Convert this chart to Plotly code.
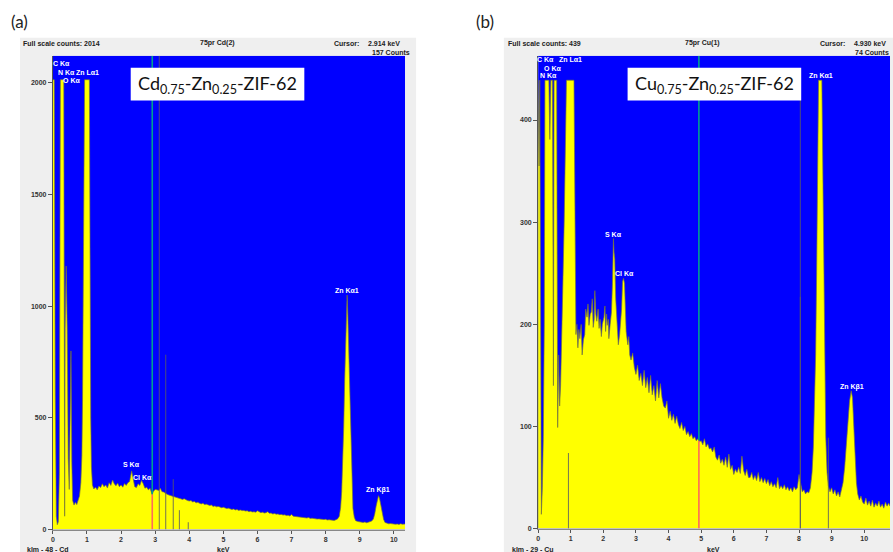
import numpy as np
import plotly.graph_objects as go

W, H = 893, 552

# ---------------- panel (a): Cd0.75-Zn0.25-ZIF-62 ----------------
cd_kev = [
    0.00, 0.04, 0.07, 0.10, 0.13, 0.16, 0.19, 0.22, 0.32, 0.345, 0.36, 0.39, 0.42, 0.45, 0.48,
    0.51, 0.53, 0.555, 0.58, 0.62, 0.66, 0.70, 0.74, 0.78, 0.82, 0.85, 0.87, 0.89, 0.91, 0.93,
    1.07, 1.09, 1.11, 1.13, 1.16, 1.20, 1.25, 1.30, 1.35, 1.40, 1.45, 1.50, 1.55, 1.60, 1.65,
    1.70, 1.75, 1.80, 1.85, 1.90, 1.95, 2.00, 2.05, 2.10, 2.15, 2.20, 2.25, 2.31, 2.35, 2.40,
    2.45, 2.50, 2.55, 2.60, 2.65, 2.70, 2.75, 2.80, 2.85, 2.91, 2.95, 3.00, 3.05, 3.10, 3.15,
    3.20, 3.25, 3.30, 3.35, 3.40, 3.45, 3.50, 3.55, 3.60, 3.65, 3.70, 3.75, 3.80, 3.85, 3.90,
    3.95, 4.00, 4.05, 4.10, 4.15, 4.20, 4.25, 4.30, 4.35, 4.40, 4.45, 4.50, 4.55, 4.60, 4.65,
    4.70, 4.75, 4.80, 4.85, 4.90, 4.95, 5.00, 5.05, 5.10, 5.15, 5.20, 5.25, 5.30, 5.35, 5.40,
    5.45, 5.50, 5.55, 5.60, 5.65, 5.70, 5.75, 5.80, 5.85, 5.90, 5.95, 6.00, 6.05, 6.10, 6.15,
    6.20, 6.25, 6.30, 6.35, 6.40, 6.45, 6.50, 6.55, 6.60, 6.65, 6.70, 6.75, 6.80, 6.85, 6.90,
    6.95, 7.00, 7.05, 7.10, 7.15, 7.20, 7.25, 7.30, 7.35, 7.40, 7.45, 7.50, 7.55, 7.60, 7.65,
    7.70, 7.75, 7.80, 7.85, 7.90, 7.95, 8.00, 8.05, 8.10, 8.15, 8.20, 8.25, 8.30, 8.35, 8.40,
    8.44, 8.47, 8.50, 8.53, 8.56, 8.59, 8.61, 8.63, 8.65, 8.68, 8.71, 8.74, 8.77, 8.80, 8.84,
    8.88, 8.95, 9.00, 9.05, 9.10, 9.15, 9.20, 9.25, 9.30, 9.35, 9.40, 9.44, 9.48, 9.52, 9.55,
    9.58, 9.62, 9.66, 9.70, 9.74, 9.80, 9.85, 9.90, 9.95, 10.00, 10.05, 10.10, 10.15, 10.20, 10.25,
    10.33,
]
cd_counts = [
    2014, 2014, 600, 60, 22, 35, 250, 2014, 2014, 60, 900, 1180, 900, 320, 180,
    450, 800, 300, 130, 110, 122, 112, 128, 150, 210, 330, 580, 950, 1500, 2014,
    2014, 1100, 500, 280, 200, 182, 190, 178, 195, 188, 205, 192, 200, 186, 210,
    198, 222, 205, 196, 208, 192, 200, 190, 206, 198, 210, 215, 263, 225, 192,
    188, 205, 198, 220, 205, 185, 190, 178, 185, 157, 172, 180, 178, 175, 185,
    170, 168, 162, 158, 155, 152, 150, 148, 146, 142, 140, 138, 135, 138, 132,
    130, 128, 130, 124, 126, 120, 122, 118, 115, 118, 112, 114, 110, 108, 110,
    104, 106, 102, 104, 100, 98, 100, 96, 94, 96, 92, 90, 92, 88, 90,
    86, 88, 85, 86, 83, 84, 80, 82, 79, 80, 78, 84, 78, 76, 78,
    74, 76, 80, 73, 74, 70, 72, 69, 70, 67, 68, 65, 66, 63, 64,
    61, 68, 60, 59, 57, 58, 55, 56, 53, 55, 52, 54, 50, 51, 49,
    50, 47, 48, 46, 47, 45, 46, 43, 44, 42, 43, 41, 44, 48, 60,
    100, 170, 290, 460, 680, 880, 985, 1050, 960, 780, 540, 330, 180, 95, 55,
    40, 36, 34, 35, 32, 34, 31, 33, 34, 38, 48, 70, 105, 138, 152,
    140, 105, 70, 45, 32, 28, 26, 27, 25, 26, 24, 25, 23, 26, 24,
    25,
]
cd_full_scale = 2014
cd_cursor_kev = 2.914
cd_cursor_counts = 157
cd_marker_kev = [3.12, 3.31, 3.53, 3.71, 3.97]
cd_marker_counts = [2121, 783, 226, 87, 33]
cd_label_text = ["C Kα", "N Kα", "Zn Lα1", "O Kα", "S Kα", "Cl Kα", "Zn Kα1", "Zn Kβ1"]
cd_label_kev = [0.25, 0.41, 1.02, 0.54, 2.30, 2.62, 8.63, 9.55]
cd_label_counts = [2086, 2047, 2047, 2012, 292, 234, 1071, 176]
cd_yticks = [0, 500, 1000, 1500, 2000]

# ---------------- panel (b): Cu0.75-Zn0.25-ZIF-62 ----------------
cu_kev = [
    0.00, 0.03, 0.05, 0.08, 0.10, 0.13, 0.16, 0.19, 0.21, 0.33, 0.36, 0.39, 0.44, 0.47, 0.49,
    0.57, 0.60, 0.63, 0.66, 0.69, 0.72, 0.76, 0.80, 0.84, 0.87, 1.10, 1.13, 1.16, 1.19, 1.22,
    1.25, 1.28, 1.32, 1.35, 1.39, 1.43, 1.46, 1.50, 1.53, 1.56, 1.60, 1.63, 1.66, 1.69, 1.72,
    1.74, 1.77, 1.80, 1.84, 1.87, 1.90, 1.94, 1.97, 2.02, 2.05, 2.07, 2.10, 2.12, 2.15, 2.17,
    2.21, 2.25, 2.28, 2.31, 2.33, 2.35, 2.38, 2.40, 2.43, 2.46, 2.50, 2.53, 2.56, 2.59, 2.62,
    2.65, 2.68, 2.70, 2.75, 2.78, 2.81, 2.85, 2.90, 2.95, 3.00, 3.05, 3.10, 3.15, 3.20, 3.25,
    3.30, 3.35, 3.40, 3.45, 3.50, 3.55, 3.60, 3.65, 3.70, 3.75, 3.80, 3.85, 3.90, 3.95, 4.00,
    4.05, 4.10, 4.15, 4.20, 4.25, 4.30, 4.35, 4.40, 4.45, 4.50, 4.55, 4.60, 4.65, 4.70, 4.75,
    4.80, 4.85, 4.90, 4.95, 5.00, 5.05, 5.10, 5.15, 5.20, 5.25, 5.30, 5.35, 5.40, 5.45, 5.50,
    5.55, 5.60, 5.65, 5.70, 5.75, 5.80, 5.85, 5.90, 5.95, 6.00, 6.05, 6.10, 6.15, 6.20, 6.25,
    6.30, 6.35, 6.40, 6.45, 6.50, 6.55, 6.60, 6.65, 6.70, 6.75, 6.80, 6.85, 6.90, 6.95, 7.00,
    7.05, 7.10, 7.15, 7.20, 7.25, 7.30, 7.35, 7.40, 7.45, 7.50, 7.55, 7.60, 7.65, 7.70, 7.75,
    7.80, 7.85, 7.90, 7.95, 8.00, 8.05, 8.10, 8.15, 8.20, 8.25, 8.30, 8.35, 8.40, 8.44, 8.48,
    8.51, 8.54, 8.57, 8.60, 8.70, 8.73, 8.76, 8.79, 8.82, 8.86, 8.90, 8.95, 9.00, 9.05, 9.10,
    9.15, 9.20, 9.25, 9.30, 9.35, 9.40, 9.45, 9.50, 9.55, 9.60, 9.64, 9.68, 9.72, 9.76, 9.80,
    9.85, 9.90, 9.95, 10.00, 10.05, 10.10, 10.15, 10.20, 10.25, 10.30, 10.35, 10.40, 10.45, 10.50, 10.55,
    10.60, 10.65, 10.70, 10.75, 10.79,
]
cu_counts = [
    439, 355, 439, 200, 14, 40, 90, 200, 439, 439, 381, 439, 439, 140, 439,
    439, 99, 170, 120, 140, 200, 240, 300, 400, 439, 439, 280, 190, 200, 177,
    195, 186, 200, 170, 185, 190, 215, 207, 220, 199, 210, 212, 225, 197, 205,
    233, 210, 203, 215, 196, 205, 188, 200, 207, 218, 193, 210, 199, 205, 186,
    200, 212, 240, 284, 270, 264, 225, 212, 190, 180, 190, 199, 215, 242, 245,
    240, 215, 193, 180, 188, 170, 165, 172, 158, 151, 160, 145, 152, 140, 155,
    138, 148, 133, 150, 131, 140, 125, 145, 128, 142, 128, 120, 118, 125, 108,
    115, 106, 112, 103, 110, 102, 98, 104, 96, 100, 92, 95, 90, 93, 88,
    90, 86, 88, 85, 86, 82, 88, 80, 83, 78, 79, 75, 80, 70, 67,
    72, 64, 68, 62, 70, 60, 73, 58, 62, 53, 58, 55, 60, 54, 71,
    57, 52, 58, 50, 50, 55, 48, 52, 47, 55, 46, 50, 45, 49, 44,
    48, 42, 46, 41, 44, 40, 50, 39, 42, 39, 43, 38, 41, 37, 40,
    36, 41, 38, 40, 53, 42, 36, 38, 34, 36, 35, 40, 55, 80, 120,
    170, 250, 340, 439, 439, 340, 230, 140, 90, 55, 42, 36, 40, 34, 38,
    32, 36, 31, 40, 45, 60, 80, 105, 125, 135, 128, 100, 70, 45, 34,
    28, 32, 26, 24, 30, 23, 27, 22, 28, 21, 25, 22, 27, 21, 24,
    20, 26, 22, 25, 22,
]
cu_full_scale = 439
cu_cursor_kev = 4.930
cu_cursor_counts = 74
cu_marker_kev = [0.93, 8.04, 8.04, 8.90]
cu_marker_counts = [74, 440, 227, 89]
cu_label_text = ["C Kα", "Zn Lα1", "O Kα", "N Kα", "S Kα", "Cl Kα", "Zn Kα1", "Zn Kβ1"]
cu_label_kev = [0.24, 1.00, 0.45, 0.33, 2.32, 2.66, 8.66, 9.61]
cu_label_counts = [459, 459, 450, 444, 288, 250, 444, 139]
cu_yticks = [0, 100, 200, 300, 400]

kev_ticks = list(range(0, 11))


def xp(p):
    return p / W


def yp(p):
    return 1 - p / H


BLUE = "#0000ff"
YELLOW = "#ffff00"
GRAY_BG = "#efefef"
tick_font = dict(family="Liberation Sans", size=7, color="#333333", weight="bold")
hdr_font = dict(family="Liberation Sans", size=7, color="#222222", weight="bold")
lbl_font = dict(family="Liberation Sans", size=7, color="#ffffff", weight="bold")

fig = go.Figure()

panels = [
    dict(kev=cd_kev, counts=cd_counts, xa="x", ya="y", cur=cd_cursor_kev,
         mk=cd_marker_kev, mc=cd_marker_counts, ymax=2121.5,
         lt=cd_label_text, lk=cd_label_kev, lc=cd_label_counts),
    dict(kev=cu_kev, counts=cu_counts, xa="x2", ya="y2", cur=cu_cursor_kev,
         mk=cu_marker_kev, mc=cu_marker_counts, ymax=463.0,
         lt=cu_label_text, lk=cu_label_kev, lc=cu_label_counts),
]

for i, p in enumerate(panels):
    fig.add_trace(go.Scatter(
        x=p["kev"], y=p["counts"], mode="lines", fill="tozeroy",
        fillcolor=YELLOW, line=dict(color="rgba(115,115,60,0.85)", width=0.8),
        xaxis=p["xa"], yaxis=p["ya"], hoverinfo="skip", showlegend=False))
    # element marker lines
    mx, my = [], []
    for k, c in zip(p["mk"], p["mc"]):
        mx += [k, k, None]
        my += [0, c, None]
    fig.add_trace(go.Scatter(
        x=mx, y=my, mode="lines", line=dict(color="rgba(90,90,100,0.85)", width=1),
        xaxis=p["xa"], yaxis=p["ya"], hoverinfo="skip", showlegend=False))
    # cursor line: red inside spectrum, teal above it
    level = float(np.interp(p["cur"], p["kev"], p["counts"]))
    fig.add_trace(go.Scatter(
        x=[p["cur"], p["cur"]], y=[0, level], mode="lines",
        line=dict(color="#ff6a5a", width=1.6),
        xaxis=p["xa"], yaxis=p["ya"], hoverinfo="skip", showlegend=False))
    fig.add_trace(go.Scatter(
        x=[p["cur"], p["cur"]], y=[level, p["ymax"]], mode="lines",
        line=dict(color="#00a090", width=1.6),
        xaxis=p["xa"], yaxis=p["ya"], hoverinfo="skip", showlegend=False))
    for t, k, c in zip(p["lt"], p["lk"], p["lc"]):
        fig.add_annotation(x=k, y=c, xref=p["xa"], yref=p["ya"], text=t,
                           showarrow=False, font=lbl_font, xanchor="center",
                           yanchor="middle")

axis_common = dict(ticks="outside", tickwidth=1, tickcolor="#555555", showline=True,
                   linewidth=1, showgrid=False, zeroline=False, tickfont=tick_font,
                   fixedrange=True)

fig.update_layout(
    width=W, height=H, margin=dict(l=0, r=0, t=0, b=0),
    paper_bgcolor="#ffffff", plot_bgcolor=BLUE, showlegend=False,
    xaxis=dict(domain=[xp(51), xp(404)], range=[0, 10.33], tickvals=kev_ticks,
               ticklen=3, linecolor="#888888", anchor="y", **axis_common),
    yaxis=dict(domain=[yp(532.5), yp(56)], range=[0, 2121.5], tickvals=cd_yticks,
               ticklen=4, linecolor="#555555", anchor="x", **axis_common),
    xaxis2=dict(domain=[xp(537.3), xp(890)], range=[0, 10.79], tickvals=kev_ticks,
                ticklen=3, linecolor="#888888", anchor="y2", **axis_common),
    yaxis2=dict(domain=[yp(531.5), yp(56)], range=[0, 463], tickvals=cu_yticks,
                ticklen=4, linecolor="#555555", anchor="x2", **axis_common),
)

shapes = [
    dict(type="rect", xref="paper", yref="paper", x0=xp(18), x1=xp(415), y0=-0.02, y1=yp(38),
         fillcolor=GRAY_BG, line=dict(width=0), layer="below"),
    dict(type="rect", xref="paper", yref="paper", x0=xp(503), x1=1.02, y0=-0.02, y1=yp(38),
         fillcolor=GRAY_BG, line=dict(width=0), layer="below"),
    dict(type="rect", xref="x", yref="y", x0=0, x1=10.33, y0=0, y1=2121.5,
         fillcolor=BLUE, line=dict(width=0), layer="below"),
    dict(type="rect", xref="x2", yref="y2", x0=0, x1=10.79, y0=0, y1=463,
         fillcolor=BLUE, line=dict(width=0), layer="below"),
    dict(type="rect", xref="paper", yref="paper", x0=xp(129), x1=xp(303), y0=yp(101), y1=yp(68),
         fillcolor="#ffffff", line=dict(width=0), layer="above"),
    dict(type="rect", xref="paper", yref="paper", x0=xp(627), x1=xp(801), y0=yp(101), y1=yp(68),
         fillcolor="#ffffff", line=dict(width=0), layer="above"),
]
fig.update_layout(shapes=shapes)


def text(x, y, s, font, xanchor="left", yanchor="middle"):
    fig.add_annotation(x=xp(x), y=yp(y), xref="paper", yref="paper", text=s,
                       showarrow=False, font=font, xanchor=xanchor, yanchor=yanchor)


big_font = dict(family="Lato", size=18, color="#111111")
panel_font = dict(family="Lato", size=17, color="#222222")

text(17.5, 22, "(a)", panel_font, "center")
text(484, 22, "(b)", panel_font, "center")
text(216, 85, "Cd<sub>0.75</sub>-Zn<sub>0.25</sub>-ZIF-62", big_font, "center")
text(714, 85, "Cu<sub>0.75</sub>-Zn<sub>0.25</sub>-ZIF-62", big_font, "center")

# header / footer texts of panel (a)
text(19, 43.5, f"Full scale counts: {cd_full_scale}", hdr_font)
text(215.5, 43.5, "75pr Cd(2)", hdr_font, "center")
text(331, 43.5, "Cursor:", hdr_font)
text(401, 43.5, f"{cd_cursor_kev:.3f} keV", hdr_font, "right")
text(411, 52.3, f"{cd_cursor_counts} Counts", hdr_font, "right")
text(23, 547, "klm - 48 - Cd", hdr_font, "left", "top")
text(222, 547, "keV", hdr_font, "center", "top")

# header / footer texts of panel (b)
text(505, 43.5, f"Full scale counts: {cu_full_scale}", hdr_font)
text(702, 43.5, "75pr Cu(1)", hdr_font, "center")
text(818, 43.5, "Cursor:", hdr_font)
text(852, 43.5, f"{cu_cursor_kev:.3f} keV", hdr_font)
text(891, 52.3, f"{cu_cursor_counts} Counts", hdr_font, "right")
text(509, 547, "klm - 29 - Cu", hdr_font, "left", "top")
text(713, 547, "keV", hdr_font, "center", "top")

fig.write_html("out.html")
